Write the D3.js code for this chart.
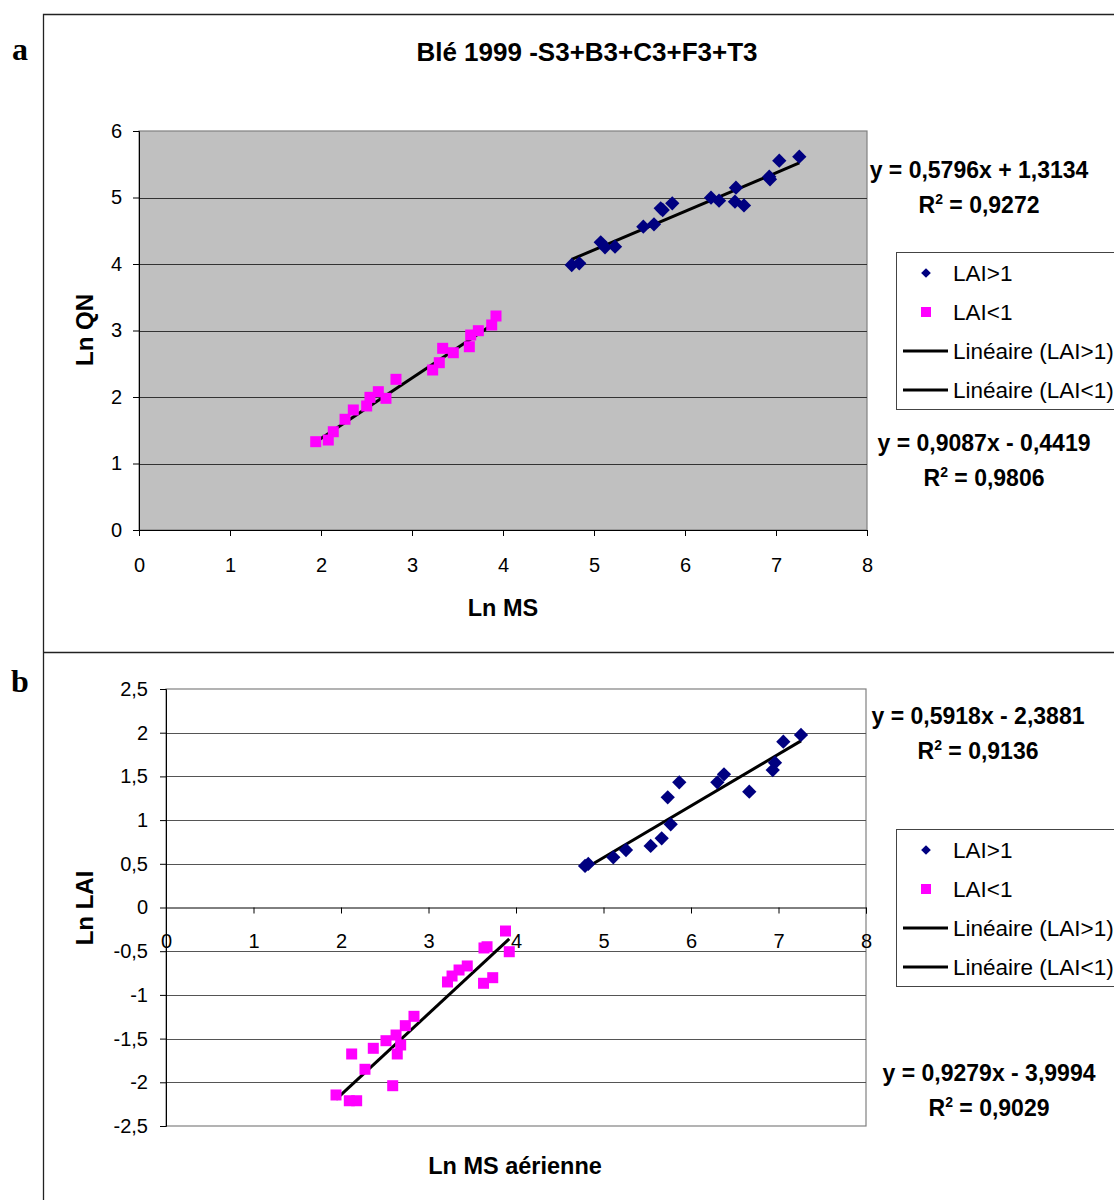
<!DOCTYPE html>
<html>
<head>
<meta charset="utf-8">
<script src="https://cdn.jsdelivr.net/npm/d3@7"></script>
<style>
body { margin:0; background:#fff; }
svg { display:block; font-family: "Liberation Sans", Arial, sans-serif; }
</style>
</head>
<body>
<svg id="chart" width="1114" height="1200"></svg>
<script>
// ---------- DATA ----------
const titleA = "Blé 1999 -S3+B3+C3+F3+T3";
const seriesNames = ["LAI>1", "LAI<1", "Linéaire (LAI>1)", "Linéaire (LAI<1)"];

// Panel a : Ln QN vs Ln MS
const aHighX = [4.755,4.838,5.074,5.121,5.231,5.542,5.659,5.733,5.755,5.860,6.286,6.374,6.560,6.549,6.648,6.926,6.934,7.036,7.256];
const aHighY = [3.985,4.010,4.326,4.251,4.260,4.561,4.597,4.838,4.812,4.913,4.997,4.952,5.147,4.937,4.880,5.313,5.274,5.553,5.614];
const aLowX  = [1.942,2.080,2.135,2.264,2.355,2.502,2.538,2.630,2.714,2.824,3.227,3.300,3.337,3.454,3.630,3.645,3.729,3.876,3.923];
const aLowY  = [1.328,1.353,1.478,1.665,1.805,1.865,1.995,2.080,1.980,2.266,2.406,2.516,2.732,2.666,2.756,2.932,2.997,3.083,3.218];
const aFitHigh = {slope:0.5796, intercept:1.3134, label:"y = 0,5796x + 1,3134", r2:"0,9272"};
const aFitLow  = {slope:0.9087, intercept:-0.4419, label:"y = 0,9087x - 0,4419", r2:"0,9806"};
const aXTicks = [0,1,2,3,4,5,6,7,8];
const aYTicks = [0,1,2,3,4,5,6];

// Panel b : Ln LAI vs Ln MS aérienne
const bHighX = [4.789,4.826,5.112,5.257,5.539,5.665,5.768,5.734,5.866,6.301,6.377,6.666,6.934,6.960,7.055,7.257];
const bHighY = [0.475,0.498,0.574,0.658,0.704,0.792,0.952,1.261,1.432,1.432,1.524,1.325,1.573,1.657,1.897,1.974];
const bLowX  = [1.943,2.095,2.179,2.122,2.274,2.369,2.514,2.629,2.643,2.682,2.591,2.735,2.834,3.217,3.269,3.349,3.443,3.629,3.734,3.634,3.669,3.880,3.923];
const bLowY  = [-2.145,-2.211,-2.211,-1.676,-1.851,-1.611,-1.524,-1.459,-1.676,-1.573,-2.039,-1.352,-1.245,-0.852,-0.784,-0.715,-0.669,-0.867,-0.803,-0.463,-0.449,-0.269,-0.506];
const bFitHigh = {slope:0.5918, intercept:-2.3881, label:"y = 0,5918x - 2,3881", r2:"0,9136"};
const bFitLow  = {slope:0.9279, intercept:-3.9994, label:"y = 0,9279x - 3,9994", r2:"0,9029"};
const bXTicks = [0,1,2,3,4,5,6,7,8];
const bYTicks = [-2.5,-2,-1.5,-1,-0.5,0,0.5,1,1.5,2,2.5];

// ---------- DRAWING ----------
const svg = d3.select("#chart");
const loc = d3.formatLocale({decimal:",", thousands:" ", grouping:[3], currency:["","€"], minus:"-"});
const fmt = loc.format("~g");
const BLUE = "#000080", MAG = "#ff00ff";

// outer frame
svg.append("path").attr("d","M43.5,1200 V14.5 H1114").attr("fill","none").attr("stroke","#222").attr("stroke-width",1.3);
svg.append("line").attr("x1",43).attr("x2",1114).attr("y1",652.5).attr("y2",652.5).attr("stroke","#222").attr("stroke-width",1.3);

// panel letters
svg.append("text").attr("x",20).attr("y",60).text("a")
  .attr("font-family","'Liberation Serif', 'DejaVu Serif', serif").attr("font-weight","bold").attr("font-size",32).attr("text-anchor","middle");
svg.append("text").attr("x",20).attr("y",692).text("b")
  .attr("font-family","'Liberation Serif', 'DejaVu Serif', serif").attr("font-weight","bold").attr("font-size",32).attr("text-anchor","middle");

// title
svg.append("text").attr("x",587).attr("y",61).attr("text-anchor","middle")
  .attr("font-weight","bold").attr("font-size",26).text(titleA);

function eqText(cx, y, fit) {
  svg.append("text").attr("x",cx).attr("y",y).attr("text-anchor","middle")
    .attr("font-weight","bold").attr("font-size",23).text(fit.label);
  const t = svg.append("text").attr("x",cx).attr("y",y+35).attr("text-anchor","middle")
    .attr("font-weight","bold").attr("font-size",23);
  t.append("tspan").text("R");
  t.append("tspan").attr("font-size",14).attr("dy",-9).text("2");
  t.append("tspan").attr("dy",9).text(" = " + fit.r2);
}

function legend(x0, y0) {
  const g = svg.append("g");
  g.append("rect").attr("x",x0+0.5).attr("y",y0+0.5).attr("width",240).attr("height",157)
    .attr("fill","#fff").attr("stroke","#444").attr("stroke-width",1);
  const rows = [y0+21, y0+60, y0+99, y0+138];
  const sym = d3.symbol();
  g.append("path").attr("d", sym.type(d3.symbolDiamond2 || d3.symbolDiamond).size(60)())
    .attr("transform",`translate(${x0+30},${rows[0]})`).attr("fill",BLUE);
  g.append("rect").attr("x",x0+25).attr("y",rows[1]-5).attr("width",10).attr("height",10).attr("fill",MAG);
  g.append("line").attr("x1",x0+7).attr("x2",x0+52).attr("y1",rows[2]).attr("y2",rows[2]).attr("stroke","#000").attr("stroke-width",3);
  g.append("line").attr("x1",x0+7).attr("x2",x0+52).attr("y1",rows[3]).attr("y2",rows[3]).attr("stroke","#000").attr("stroke-width",3);
  seriesNames.forEach((n,i)=>{
    g.append("text").attr("x",x0+57).attr("y",rows[i]+8).attr("font-size",22.5).text(n);
  });
}

function panel(o) {
  const x = d3.scaleLinear().domain([0,8]).range([o.left,o.right]);
  const y = d3.scaleLinear().domain(o.yDomain).range([o.bottom,o.top]);
  const g = svg.append("g");
  g.append("rect").attr("x",o.left).attr("y",o.top).attr("width",o.right-o.left).attr("height",o.bottom-o.top)
    .attr("fill",o.bg).attr("stroke","#808080").attr("stroke-width",1.2);
  g.selectAll(".grid").data(o.yTicks.filter(v=>v!==o.yDomain[0] && v!==o.yDomain[1] && v!==o.xAxisAt))
    .join("line").attr("x1",o.left).attr("x2",o.right)
    .attr("y1",d=>Math.round(y(d))+0.5).attr("y2",d=>Math.round(y(d))+0.5)
    .attr("stroke",o.gridColor).attr("stroke-width",1);
  const ya = g.append("g").attr("transform",`translate(${o.left},0)`)
    .call(d3.axisLeft(y).tickValues(o.yTicks).tickFormat(fmt).tickSize(6).tickPadding(o.yPad));
  ya.select(".domain").attr("stroke","#000");
  ya.selectAll("text").attr("font-size",20).attr("fill","#000").attr("font-family","'Liberation Sans', Arial, sans-serif");
  const xa = g.append("g").attr("transform",`translate(0,${y(o.xAxisAt)})`)
    .call(d3.axisBottom(x).tickValues(o.xTicks).tickFormat(fmt).tickSize(6).tickPadding(o.xPad));
  xa.select(".domain").attr("stroke","#000");
  xa.selectAll("text").attr("font-size",20).attr("fill","#000").attr("font-family","'Liberation Sans', Arial, sans-serif");
  const line = d3.line().x(d=>x(d[0])).y(d=>y(d[1]));
  [[o.highX,o.fitHigh],[o.lowX,o.fitLow]].forEach(([xs,f])=>{
    const ext = d3.extent(xs);
    g.append("path").attr("d", line(ext.map(v=>[v, f.slope*v+f.intercept])))
      .attr("fill","none").attr("stroke","#000").attr("stroke-width",3);
  });
  const diamond = d3.symbol().type(d3.symbolDiamond2 || d3.symbolDiamond).size(130);
  g.selectAll(".hi").data(o.highX.map((v,i)=>[v,o.highY[i]])).join("path")
    .attr("d",diamond()).attr("transform",d=>`translate(${x(d[0])},${y(d[1])})`).attr("fill",BLUE);
  g.selectAll(".lo").data(o.lowX.map((v,i)=>[v,o.lowY[i]])).join("rect")
    .attr("x",d=>x(d[0])-5.5).attr("y",d=>y(d[1])-5.5).attr("width",11).attr("height",11).attr("fill",MAG);
  svg.append("text").attr("transform",`translate(${o.yTitleX},${o.yTitleY}) rotate(-90)`).attr("text-anchor","middle")
    .attr("font-weight","bold").attr("font-size",24).text(o.yTitle);
  svg.append("text").attr("x",o.xTitleX).attr("y",o.xTitleY).attr("text-anchor","middle")
    .attr("font-weight","bold").attr("font-size",23.5).text(o.xTitle);
}

panel({left:139, right:867, top:131, bottom:530, yDomain:[0,6], yTicks:aYTicks, xTicks:aXTicks,
  xAxisAt:0, xPad:22, yPad:11, bg:"#c0c0c0", gridColor:"#333",
  highX:aHighX, highY:aHighY, lowX:aLowX, lowY:aLowY, fitHigh:aFitHigh, fitLow:aFitLow,
  yTitle:"Ln QN", yTitleX:93, yTitleY:330, xTitle:"Ln MS", xTitleX:503, xTitleY:616});

panel({left:166, right:866, top:689, bottom:1126, yDomain:[-2.5,2.5], yTicks:bYTicks, xTicks:bXTicks,
  xAxisAt:0, xPad:20, yPad:12, bg:"#fff", gridColor:"#555",
  highX:bHighX, highY:bHighY, lowX:bLowX, lowY:bLowY, fitHigh:bFitHigh, fitLow:bFitLow,
  yTitle:"Ln LAI", yTitleX:93, yTitleY:908, xTitle:"Ln MS aérienne", xTitleX:515, xTitleY:1174});

eqText(979, 178, aFitHigh);
eqText(984, 451, aFitLow);
eqText(978, 724, bFitHigh);
eqText(989, 1081, bFitLow);
legend(896, 252);
legend(896, 829);
</script>
</body>
</html>
